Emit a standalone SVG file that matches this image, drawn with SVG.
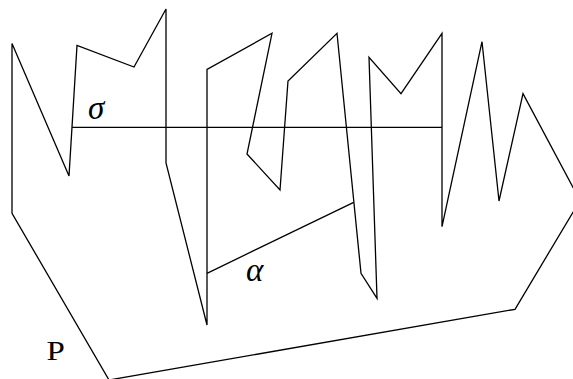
<svg xmlns="http://www.w3.org/2000/svg" width="573" height="379" viewBox="0 0 573 379">
<style>
.edge{fill:none;stroke:#000;stroke-width:1.3;stroke-linejoin:miter}
.lbl{font-family:"Liberation Serif","DejaVu Serif",serif;font-size:27px;fill:#000}
.gr{font-style:italic;font-size:33px}
</style>
<rect width="573" height="379" fill="#fff"/>
<g id="polygon-P">
<polygon class="edge" points="12,213.3 12,43.5 69,176 77,45.5 134,67 166,9 166,163 207,325 207,69.5 272,33.3 247,154 280,190 288,81 337,33.3 361,273.3 377,298.3 369,57.3 401,93.7 442,33.3 442,226.7 482,41.7 499,201 523,93.7 580,200.5 515,309.3 109,380"/>
</g>
<g id="connectors">
<line id="sigma-chord" class="edge" x1="72" y1="127.3" x2="442" y2="127.3"/>
<line id="alpha-chord" class="edge" x1="207" y1="273.3" x2="353.7" y2="202.3"/>
</g>
<g id="labels">
<text id="label-sigma" class="lbl gr" x="88" y="118.5">σ</text>
<text id="label-alpha" class="lbl gr" x="246" y="281">α</text>
<text id="label-P" class="lbl" transform="translate(46.5,359.5) scale(1.22,1)" x="0" y="0">P</text>
</g>
</svg>
